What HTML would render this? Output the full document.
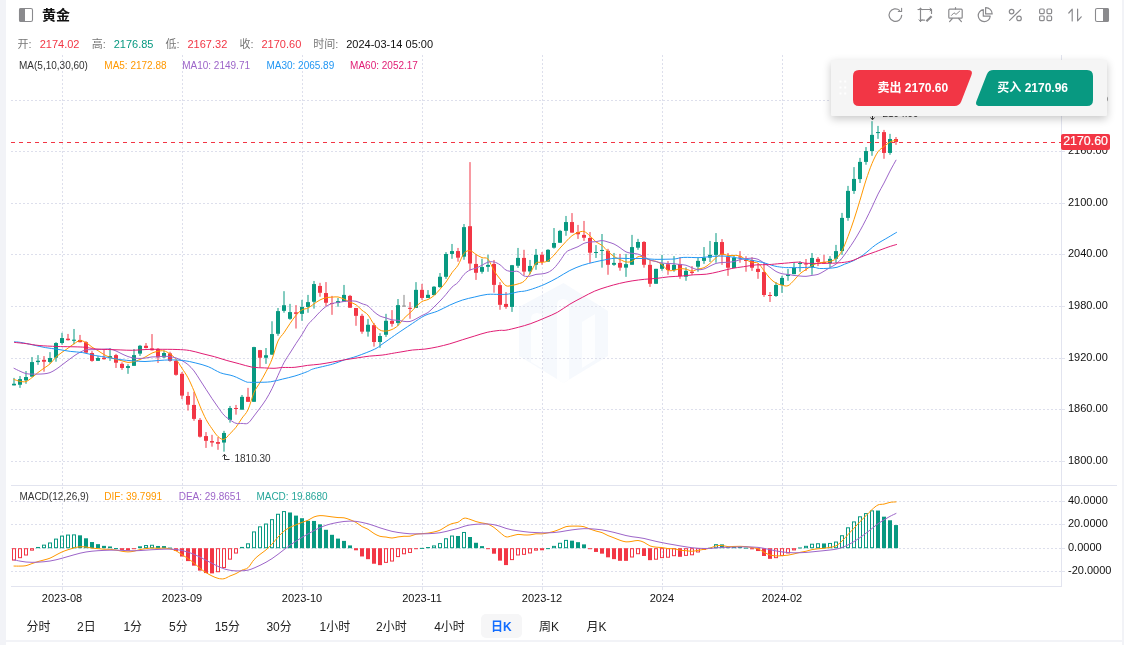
<!DOCTYPE html>
<html lang="zh-CN"><head><meta charset="utf-8"><title>黄金</title>
<style>
html,body{margin:0;padding:0}
body{width:1124px;height:645px;overflow:hidden;position:relative;background:#f2f3f7;font-family:"Liberation Sans","Noto Sans CJK SC",sans-serif;color:#222}
.panel{position:absolute;left:6px;top:0;width:1116px;height:640px;background:#fff}
.panel2{position:absolute;left:6px;top:642px;width:1116px;height:3px;background:#fff}
.chart{position:absolute;left:0;top:0}
.icons{position:absolute;left:0;top:0}
.title{position:absolute;left:42px;top:5px;font-size:14px;line-height:20px;font-weight:bold;color:#111}
.l2{position:absolute;left:0;top:36px;height:16px}
.l2 span{position:absolute;top:0;font-size:11px;line-height:16px;white-space:nowrap}
.l2 .lb{color:#777;font-size:11px}
.l2 .r{color:#f23645}.l2 .g{color:#089981}.l2 .k{color:#111}
.tabs{position:absolute;left:0;top:614px;height:24px}
.tabs span{position:absolute;top:1px;font-size:12px;line-height:24px;white-space:nowrap;color:#222}
.tabs .on{color:#126dff;font-weight:bold;margin-left:-0.6px}
.tabs .bg{top:0;left:481px;width:41px;height:23.6px;background:#f6f6f7;border-radius:5px}
.trade{position:absolute;left:831px;top:60px;width:276px;height:56px;background:#f5f5f5;box-shadow:0 3px 8px rgba(0,0,0,.22);border-radius:1px}
.trade .dots{position:absolute;left:839px;top:0}
.btn{position:absolute;top:10px;height:36px;color:#fff;font-size:12px;font-weight:bold;line-height:36px;white-space:nowrap}
.btn svg{position:absolute;left:0;top:0}
.btn span{position:absolute;top:-0.5px}
</style></head><body>
<div class="panel"></div><div class="panel2"></div>
<svg class="chart" width="1124" height="645" viewBox="0 0 1124 645" font-family="Liberation Sans, Arial, sans-serif"><g fill="#f6f9fd"><path d="M519,307 L563.5,283 L608,311 L608,356 L563.5,383 L519,356 Z"/></g><g fill="#ffffff" opacity="0.8"><path d="M531,319 Q531,313 537,313 Q543,313 543,319 V369 L531,362 Z M557,305 Q557,299 563,299 Q569,299 569,305 V379.5 L563.5,383 L557,379.5 Z M582,322 L595,314 V360 L582,368 Z"/></g>
<g stroke="#dddfec" stroke-width="1" stroke-dasharray="2 2" fill="none"><line x1="11" y1="100.5" x2="1061" y2="100.5"/><line x1="11" y1="151.5" x2="1061" y2="151.5"/><line x1="11" y1="203.5" x2="1061" y2="203.5"/><line x1="11" y1="254.5" x2="1061" y2="254.5"/><line x1="11" y1="306.5" x2="1061" y2="306.5"/><line x1="11" y1="358.5" x2="1061" y2="358.5"/><line x1="11" y1="409.5" x2="1061" y2="409.5"/><line x1="11" y1="461.5" x2="1061" y2="461.5"/><line x1="11" y1="501.5" x2="1061" y2="501.5"/><line x1="11" y1="524.5" x2="1061" y2="524.5"/><line x1="11" y1="548.5" x2="1061" y2="548.5"/><line x1="11" y1="571.5" x2="1061" y2="571.5"/><line x1="62.5" y1="55" x2="62.5" y2="485"/><line x1="62.5" y1="487" x2="62.5" y2="586"/><line x1="182.5" y1="55" x2="182.5" y2="485"/><line x1="182.5" y1="487" x2="182.5" y2="586"/><line x1="302.5" y1="55" x2="302.5" y2="485"/><line x1="302.5" y1="487" x2="302.5" y2="586"/><line x1="422.5" y1="55" x2="422.5" y2="485"/><line x1="422.5" y1="487" x2="422.5" y2="586"/><line x1="542.5" y1="55" x2="542.5" y2="485"/><line x1="542.5" y1="487" x2="542.5" y2="586"/><line x1="662.5" y1="55" x2="662.5" y2="485"/><line x1="662.5" y1="487" x2="662.5" y2="586"/><line x1="782.5" y1="55" x2="782.5" y2="485"/><line x1="782.5" y1="487" x2="782.5" y2="586"/></g>
<g><rect x="13" y="377.91" width="2" height="7.47" fill="#089981" opacity="0.5"/><rect x="12" y="383.76" width="4" height="1.62" fill="#089981"/><rect x="19" y="376.04" width="2" height="11.83" fill="#089981" opacity="0.5"/><rect x="18" y="379.15" width="4" height="5.6" fill="#089981"/><rect x="25" y="371.06" width="2" height="12.7" fill="#089981" opacity="0.5"/><rect x="24" y="377.04" width="4" height="3.36" fill="#089981"/><rect x="31" y="356.99" width="2" height="19.68" fill="#089981" opacity="0.5"/><rect x="30" y="362.09" width="4" height="14.57" fill="#089981"/><rect x="37" y="355.12" width="2" height="9.71" fill="#089981" opacity="0.5"/><rect x="36" y="360.72" width="4" height="1.37" fill="#089981"/><rect x="43" y="356.11" width="2" height="15.57" fill="#f23645" opacity="0.5"/><rect x="42" y="359.85" width="4" height="1.87" fill="#f23645"/><rect x="49" y="352.13" width="2" height="11.46" fill="#089981" opacity="0.5"/><rect x="48" y="357.98" width="4" height="3.99" fill="#089981"/><rect x="55" y="342.17" width="2" height="19.55" fill="#089981" opacity="0.5"/><rect x="54" y="343.04" width="4" height="14.69" fill="#089981"/><rect x="61" y="332.83" width="2" height="11.83" fill="#089981" opacity="0.5"/><rect x="60" y="338.06" width="4" height="4.98" fill="#089981"/><rect x="67" y="333.95" width="2" height="6.6" fill="#f23645" opacity="0.5"/><rect x="66" y="338.68" width="4" height="1.49" fill="#f23645"/><rect x="73" y="328.97" width="2" height="15.32" fill="#089981" opacity="0.5"/><rect x="72" y="339.68" width="4" height="1.12" fill="#089981"/><rect x="79" y="334.94" width="2" height="7.47" fill="#f23645" opacity="0.5"/><rect x="78" y="339.93" width="4" height="2.24" fill="#f23645"/><rect x="85" y="341.17" width="2" height="11.83" fill="#f23645" opacity="0.5"/><rect x="84" y="342.17" width="4" height="10.46" fill="#f23645"/><rect x="91" y="351.13" width="2" height="10.59" fill="#f23645" opacity="0.5"/><rect x="90" y="353" width="4" height="7.85" fill="#f23645"/><rect x="97" y="356.11" width="2" height="4.73" fill="#089981" opacity="0.5"/><rect x="96" y="357.98" width="4" height="2.86" fill="#089981"/><rect x="103" y="349.27" width="2" height="10.34" fill="#f23645" opacity="0.5"/><rect x="102" y="357.73" width="4" height="1.49" fill="#f23645"/><rect x="109" y="348.02" width="2" height="12.83" fill="#089981" opacity="0.5"/><rect x="108" y="356.11" width="4" height="1.87" fill="#089981"/><rect x="115" y="353.87" width="2" height="14.07" fill="#f23645" opacity="0.5"/><rect x="114" y="355.12" width="4" height="7.6" fill="#f23645"/><rect x="121" y="362.34" width="2" height="7.47" fill="#f23645" opacity="0.5"/><rect x="120" y="363.84" width="4" height="4.11" fill="#f23645"/><rect x="127" y="364.21" width="2" height="9.59" fill="#089981" opacity="0.5"/><rect x="126" y="366.08" width="4" height="1.87" fill="#089981"/><rect x="133" y="349.02" width="2" height="16.81" fill="#089981" opacity="0.5"/><rect x="132" y="355.12" width="4" height="10.71" fill="#089981"/><rect x="139" y="344.91" width="2" height="10.96" fill="#089981" opacity="0.5"/><rect x="138" y="345.78" width="4" height="7.85" fill="#089981"/><rect x="145" y="343.04" width="2" height="5.35" fill="#f23645" opacity="0.5"/><rect x="144" y="345.78" width="4" height="2.24" fill="#f23645"/><rect x="151" y="334.07" width="2" height="16.44" fill="#f23645" opacity="0.5"/><rect x="150" y="348.39" width="4" height="1.87" fill="#f23645"/><rect x="157" y="348.02" width="2" height="14.94" fill="#f23645" opacity="0.5"/><rect x="156" y="348.89" width="4" height="8.47" fill="#f23645"/><rect x="163" y="350.51" width="2" height="7.47" fill="#089981" opacity="0.5"/><rect x="162" y="353" width="4" height="4.36" fill="#089981"/><rect x="169" y="351.76" width="2" height="9.96" fill="#f23645" opacity="0.5"/><rect x="168" y="353.37" width="4" height="7.47" fill="#f23645"/><rect x="175" y="360.1" width="2" height="15.57" fill="#f23645" opacity="0.5"/><rect x="174" y="360.85" width="4" height="13.95" fill="#f23645"/><rect x="181" y="372.05" width="2" height="27.02" fill="#f23645" opacity="0.5"/><rect x="180" y="373.8" width="4" height="21.79" fill="#f23645"/><rect x="187" y="391.87" width="2" height="18.68" fill="#f23645" opacity="0.5"/><rect x="186" y="395.98" width="4" height="8.72" fill="#f23645"/><rect x="193" y="391.87" width="2" height="28.89" fill="#f23645" opacity="0.5"/><rect x="192" y="404.94" width="4" height="13.95" fill="#f23645"/><rect x="199" y="418.02" width="2" height="19.55" fill="#f23645" opacity="0.5"/><rect x="198" y="419.89" width="4" height="16.81" fill="#f23645"/><rect x="205" y="432.09" width="2" height="15.82" fill="#f23645" opacity="0.5"/><rect x="204" y="436.08" width="4" height="4.73" fill="#f23645"/><rect x="211" y="434.83" width="2" height="11.83" fill="#f23645" opacity="0.5"/><rect x="210" y="441.06" width="4" height="1.49" fill="#f23645"/><rect x="217" y="437.07" width="2" height="12.7" fill="#f23645" opacity="0.5"/><rect x="216" y="442.05" width="4" height="1.74" fill="#f23645"/><rect x="223" y="430.85" width="2" height="20.8" fill="#089981" opacity="0.5"/><rect x="222" y="432.96" width="4" height="9.59" fill="#089981"/><rect x="229" y="405.94" width="2" height="16.69" fill="#089981" opacity="0.5"/><rect x="228" y="408.06" width="4" height="11.83" fill="#089981"/><rect x="235" y="404.94" width="2" height="9.71" fill="#f23645" opacity="0.5"/><rect x="234" y="407.99" width="4" height="1" fill="#f23645"/><rect x="241" y="394.98" width="2" height="14.69" fill="#089981" opacity="0.5"/><rect x="240" y="396.85" width="4" height="12.83" fill="#089981"/><rect x="247" y="387.88" width="2" height="13.95" fill="#f23645" opacity="0.5"/><rect x="246" y="396.85" width="4" height="4.98" fill="#f23645"/><rect x="253" y="346.8" width="2" height="55" fill="#089981" opacity="0.5"/><rect x="252" y="347.1" width="4" height="54.7" fill="#089981"/><rect x="259" y="349.89" width="2" height="17.19" fill="#f23645" opacity="0.5"/><rect x="258" y="350.14" width="4" height="7.6" fill="#f23645"/><rect x="265" y="348.02" width="2" height="15.82" fill="#089981" opacity="0.5"/><rect x="264" y="355.24" width="4" height="2.49" fill="#089981"/><rect x="271" y="321.25" width="2" height="33.62" fill="#089981" opacity="0.5"/><rect x="270" y="334.07" width="4" height="20.55" fill="#089981"/><rect x="277" y="307.98" width="2" height="27.77" fill="#089981" opacity="0.5"/><rect x="276" y="311.1" width="4" height="22.67" fill="#089981"/><rect x="283" y="291.17" width="2" height="21.54" fill="#089981" opacity="0.5"/><rect x="282" y="305.24" width="4" height="5.6" fill="#089981"/><rect x="289" y="303.87" width="2" height="15.94" fill="#089981" opacity="0.5"/><rect x="288" y="312.09" width="4" height="6.72" fill="#089981"/><rect x="295" y="305.12" width="2" height="23.41" fill="#f23645" opacity="0.5"/><rect x="294" y="312.34" width="4" height="1.49" fill="#f23645"/><rect x="301" y="299.89" width="2" height="20.92" fill="#089981" opacity="0.5"/><rect x="300" y="306.99" width="4" height="6.85" fill="#089981"/><rect x="307" y="294.91" width="2" height="17.81" fill="#089981" opacity="0.5"/><rect x="306" y="302.13" width="4" height="4.86" fill="#089981"/><rect x="313" y="280.96" width="2" height="27.65" fill="#089981" opacity="0.5"/><rect x="312" y="284.07" width="4" height="17.68" fill="#089981"/><rect x="319" y="282.83" width="2" height="13.95" fill="#f23645" opacity="0.5"/><rect x="318" y="285.94" width="4" height="6.85" fill="#f23645"/><rect x="325" y="282.08" width="2" height="24.03" fill="#f23645" opacity="0.5"/><rect x="324" y="293.04" width="4" height="9.71" fill="#f23645"/><rect x="331" y="295.9" width="2" height="18.93" fill="#f23645" opacity="0.5"/><rect x="330" y="303" width="4" height="1" fill="#f23645"/><rect x="337" y="298.02" width="2" height="8.72" fill="#089981" opacity="0.5"/><rect x="336" y="301.13" width="4" height="1.87" fill="#089981"/><rect x="343" y="284.94" width="2" height="16.81" fill="#089981" opacity="0.5"/><rect x="342" y="294.91" width="4" height="6.85" fill="#089981"/><rect x="349" y="294.91" width="2" height="12.83" fill="#f23645" opacity="0.5"/><rect x="348" y="295.9" width="4" height="11.83" fill="#f23645"/><rect x="355" y="307.98" width="2" height="17.81" fill="#f23645" opacity="0.5"/><rect x="354" y="307.98" width="4" height="7.85" fill="#f23645"/><rect x="361" y="313.84" width="2" height="19.93" fill="#f23645" opacity="0.5"/><rect x="360" y="315.83" width="4" height="15.82" fill="#f23645"/><rect x="367" y="318.94" width="2" height="17.68" fill="#089981" opacity="0.5"/><rect x="366" y="324.79" width="4" height="6.85" fill="#089981"/><rect x="373" y="322.93" width="2" height="23.66" fill="#f23645" opacity="0.5"/><rect x="372" y="325.17" width="4" height="16.81" fill="#f23645"/><rect x="379" y="333.14" width="2" height="14.69" fill="#089981" opacity="0.5"/><rect x="378" y="336" width="4" height="5.98" fill="#089981"/><rect x="385" y="313.84" width="2" height="23.04" fill="#089981" opacity="0.5"/><rect x="384" y="320.81" width="4" height="13.95" fill="#089981"/><rect x="391" y="310.1" width="2" height="16.56" fill="#f23645" opacity="0.5"/><rect x="390" y="320.81" width="4" height="2.99" fill="#f23645"/><rect x="397" y="299.02" width="2" height="26.77" fill="#089981" opacity="0.5"/><rect x="396" y="305.12" width="4" height="17.81" fill="#089981"/><rect x="403" y="294.91" width="2" height="11.33" fill="#888888" opacity="0.5"/><rect x="402" y="305.61" width="4" height="1" fill="#888888"/><rect x="409" y="302.05" width="2" height="16.69" fill="#f23645" opacity="0.5"/><rect x="408" y="307.84" width="4" height="1" fill="#f23645"/><rect x="415" y="282.13" width="2" height="25.78" fill="#089981" opacity="0.5"/><rect x="414" y="289.85" width="4" height="18.06" fill="#089981"/><rect x="421" y="283.87" width="2" height="15.94" fill="#f23645" opacity="0.5"/><rect x="420" y="289.85" width="4" height="8.09" fill="#f23645"/><rect x="427" y="290.1" width="2" height="7.85" fill="#089981" opacity="0.5"/><rect x="426" y="294.83" width="4" height="3.11" fill="#089981"/><rect x="433" y="286.11" width="2" height="8.97" fill="#089981" opacity="0.5"/><rect x="432" y="286.74" width="4" height="8.34" fill="#089981"/><rect x="439" y="273.04" width="2" height="14.69" fill="#089981" opacity="0.5"/><rect x="438" y="276.77" width="4" height="10.34" fill="#089981"/><rect x="445" y="252.12" width="2" height="26.77" fill="#089981" opacity="0.5"/><rect x="444" y="253.99" width="4" height="22.79" fill="#089981"/><rect x="451" y="243.96" width="2" height="14.82" fill="#089981" opacity="0.5"/><rect x="450" y="251.06" width="4" height="2.86" fill="#089981"/><rect x="457" y="247.95" width="2" height="13.7" fill="#f23645" opacity="0.5"/><rect x="456" y="251.06" width="4" height="6.6" fill="#f23645"/><rect x="463" y="224.03" width="2" height="35.74" fill="#089981" opacity="0.5"/><rect x="462" y="227.15" width="4" height="29.51" fill="#089981"/><rect x="469" y="162.1" width="2" height="108.3" fill="#f23645" opacity="0.5"/><rect x="468" y="226.2" width="4" height="37.3" fill="#f23645"/><rect x="475" y="254.36" width="2" height="25.53" fill="#f23645" opacity="0.5"/><rect x="474" y="263.95" width="4" height="8.84" fill="#f23645"/><rect x="481" y="258.72" width="2" height="14.94" fill="#089981" opacity="0.5"/><rect x="480" y="267.06" width="4" height="4.73" fill="#089981"/><rect x="487" y="254.73" width="2" height="17.06" fill="#089981" opacity="0.5"/><rect x="486" y="264.94" width="4" height="1.87" fill="#089981"/><rect x="493" y="259.96" width="2" height="32.75" fill="#f23645" opacity="0.5"/><rect x="492" y="263.95" width="4" height="20.92" fill="#f23645"/><rect x="499" y="282.13" width="2" height="27.65" fill="#f23645" opacity="0.5"/><rect x="498" y="285.12" width="4" height="19.68" fill="#f23645"/><rect x="505" y="292.09" width="2" height="16.69" fill="#f23645" opacity="0.5"/><rect x="504" y="303.92" width="4" height="2.99" fill="#f23645"/><rect x="511" y="264.94" width="2" height="46.95" fill="#089981" opacity="0.5"/><rect x="510" y="265.19" width="4" height="41.72" fill="#089981"/><rect x="517" y="247.95" width="2" height="19.93" fill="#089981" opacity="0.5"/><rect x="516" y="257.91" width="4" height="7.85" fill="#089981"/><rect x="523" y="249.81" width="2" height="25.53" fill="#f23645" opacity="0.5"/><rect x="522" y="257.91" width="4" height="13.7" fill="#f23645"/><rect x="529" y="259.96" width="2" height="14.32" fill="#089981" opacity="0.5"/><rect x="528" y="265.94" width="4" height="5.48" fill="#089981"/><rect x="535" y="248.96" width="2" height="20.8" fill="#089981" opacity="0.5"/><rect x="534" y="254.81" width="4" height="9.96" fill="#089981"/><rect x="541" y="252.07" width="2" height="12.7" fill="#f23645" opacity="0.5"/><rect x="540" y="254.81" width="4" height="7.1" fill="#f23645"/><rect x="547" y="249.21" width="2" height="12.45" fill="#089981" opacity="0.5"/><rect x="546" y="249.83" width="4" height="11.83" fill="#089981"/><rect x="553" y="228.04" width="2" height="20.55" fill="#089981" opacity="0.5"/><rect x="552" y="242.98" width="4" height="4.73" fill="#089981"/><rect x="559" y="229.91" width="2" height="13.08" fill="#089981" opacity="0.5"/><rect x="558" y="230.9" width="4" height="11.83" fill="#089981"/><rect x="565" y="215.96" width="2" height="19.8" fill="#089981" opacity="0.5"/><rect x="564" y="222.06" width="4" height="8.72" fill="#089981"/><rect x="571" y="213.09" width="2" height="19.55" fill="#f23645" opacity="0.5"/><rect x="570" y="222.06" width="4" height="10.59" fill="#f23645"/><rect x="577" y="224.93" width="2" height="13.95" fill="#f23645" opacity="0.5"/><rect x="576" y="232.02" width="4" height="2.24" fill="#f23645"/><rect x="583" y="220.94" width="2" height="19.93" fill="#f23645" opacity="0.5"/><rect x="582" y="234.89" width="4" height="2.86" fill="#f23645"/><rect x="589" y="232.02" width="2" height="30.88" fill="#f23645" opacity="0.5"/><rect x="588" y="238" width="4" height="14.69" fill="#f23645"/><rect x="595" y="245.1" width="2" height="12.83" fill="#089981" opacity="0.5"/><rect x="594" y="252.01" width="4" height="1" fill="#089981"/><rect x="601" y="234.02" width="2" height="33.62" fill="#089981" opacity="0.5"/><rect x="600" y="249.95" width="4" height="1" fill="#089981"/><rect x="607" y="248.84" width="2" height="25.9" fill="#f23645" opacity="0.5"/><rect x="606" y="250.83" width="4" height="13.95" fill="#f23645"/><rect x="613" y="252.95" width="2" height="12.83" fill="#089981" opacity="0.5"/><rect x="612" y="262.91" width="4" height="1.87" fill="#089981"/><rect x="619" y="253.94" width="2" height="16.81" fill="#f23645" opacity="0.5"/><rect x="618" y="262.91" width="4" height="4.73" fill="#f23645"/><rect x="625" y="253.94" width="2" height="22.91" fill="#089981" opacity="0.5"/><rect x="624" y="264.15" width="4" height="3.49" fill="#089981"/><rect x="631" y="234.89" width="2" height="29.89" fill="#089981" opacity="0.5"/><rect x="630" y="247.09" width="4" height="17.68" fill="#089981"/><rect x="637" y="238.87" width="2" height="10.96" fill="#089981" opacity="0.5"/><rect x="636" y="241.99" width="4" height="5.73" fill="#089981"/><rect x="643" y="241.11" width="2" height="26.53" fill="#f23645" opacity="0.5"/><rect x="642" y="241.99" width="4" height="22.79" fill="#f23645"/><rect x="649" y="260.49" width="2" height="26.4" fill="#f23645" opacity="0.5"/><rect x="648" y="264.85" width="4" height="18.93" fill="#f23645"/><rect x="655" y="268.84" width="2" height="14.94" fill="#089981" opacity="0.5"/><rect x="654" y="268.84" width="4" height="14.94" fill="#089981"/><rect x="661" y="254.89" width="2" height="15.94" fill="#089981" opacity="0.5"/><rect x="660" y="263.85" width="4" height="4.98" fill="#089981"/><rect x="667" y="261.11" width="2" height="13.7" fill="#f23645" opacity="0.5"/><rect x="666" y="264.23" width="4" height="5.85" fill="#f23645"/><rect x="673" y="256.13" width="2" height="15.57" fill="#089981" opacity="0.5"/><rect x="672" y="264.85" width="4" height="5.23" fill="#089981"/><rect x="679" y="257.13" width="2" height="21.67" fill="#f23645" opacity="0.5"/><rect x="678" y="263.98" width="4" height="12.08" fill="#f23645"/><rect x="685" y="267.34" width="2" height="13.45" fill="#089981" opacity="0.5"/><rect x="684" y="270.83" width="4" height="5.85" fill="#089981"/><rect x="691" y="266.1" width="2" height="8.72" fill="#f23645" opacity="0.5"/><rect x="690" y="271.7" width="4" height="1.25" fill="#f23645"/><rect x="697" y="258" width="2" height="13.7" fill="#089981" opacity="0.5"/><rect x="696" y="260.87" width="4" height="5.85" fill="#089981"/><rect x="703" y="247.04" width="2" height="16.81" fill="#089981" opacity="0.5"/><rect x="702" y="257.63" width="4" height="3.24" fill="#089981"/><rect x="709" y="240.94" width="2" height="21.05" fill="#089981" opacity="0.5"/><rect x="708" y="254.89" width="4" height="2.74" fill="#089981"/><rect x="715" y="233.09" width="2" height="29.64" fill="#089981" opacity="0.5"/><rect x="714" y="242.06" width="4" height="12.83" fill="#089981"/><rect x="721" y="239.07" width="2" height="25.78" fill="#f23645" opacity="0.5"/><rect x="720" y="242.06" width="4" height="12.83" fill="#f23645"/><rect x="727" y="253.02" width="2" height="22.79" fill="#f23645" opacity="0.5"/><rect x="726" y="256.76" width="4" height="10.96" fill="#f23645"/><rect x="733" y="254.89" width="2" height="13.08" fill="#089981" opacity="0.5"/><rect x="732" y="257.63" width="4" height="10.34" fill="#089981"/><rect x="739" y="251.1" width="2" height="11.6" fill="#f23645" opacity="0.5"/><rect x="738" y="256.5" width="4" height="1" fill="#f23645"/><rect x="745" y="256.2" width="2" height="15.5" fill="#f23645" opacity="0.5"/><rect x="744" y="260" width="4" height="1" fill="#f23645"/><rect x="751" y="257.13" width="2" height="13.7" fill="#f23645" opacity="0.5"/><rect x="750" y="260.24" width="4" height="7.47" fill="#f23645"/><rect x="757" y="263.61" width="2" height="15.19" fill="#f23645" opacity="0.5"/><rect x="756" y="268.84" width="4" height="3.11" fill="#f23645"/><rect x="763" y="262.36" width="2" height="34.5" fill="#f23645" opacity="0.5"/><rect x="762" y="272.07" width="4" height="22.91" fill="#f23645"/><rect x="769" y="292" width="2" height="9.96" fill="#f23645" opacity="0.5"/><rect x="768" y="294.99" width="4" height="1" fill="#f23645"/><rect x="775" y="282.04" width="2" height="14.82" fill="#089981" opacity="0.5"/><rect x="774" y="285.02" width="4" height="10.96" fill="#089981"/><rect x="781" y="275.81" width="2" height="17.06" fill="#089981" opacity="0.5"/><rect x="780" y="277.93" width="4" height="7.1" fill="#089981"/><rect x="787" y="268.92" width="2" height="11.83" fill="#089981" opacity="0.5"/><rect x="786" y="274.53" width="4" height="1.49" fill="#089981"/><rect x="793" y="262.07" width="2" height="12.08" fill="#089981" opacity="0.5"/><rect x="792" y="267.93" width="4" height="6.23" fill="#089981"/><rect x="799" y="261.2" width="2" height="10.6" fill="#089981" opacity="0.5"/><rect x="798" y="263" width="4" height="1" fill="#089981"/><rect x="805" y="259" width="2" height="11.9" fill="#f23645" opacity="0.5"/><rect x="804" y="263.5" width="4" height="1" fill="#f23645"/><rect x="811" y="252.98" width="2" height="21.79" fill="#089981" opacity="0.5"/><rect x="810" y="257.96" width="4" height="9.34" fill="#089981"/><rect x="817" y="257.09" width="2" height="8.97" fill="#f23645" opacity="0.5"/><rect x="816" y="258.84" width="4" height="3.11" fill="#f23645"/><rect x="823" y="254.85" width="2" height="8.97" fill="#f23645" opacity="0.5"/><rect x="822" y="262.07" width="4" height="1.49" fill="#f23645"/><rect x="829" y="256.1" width="2" height="10.96" fill="#089981" opacity="0.5"/><rect x="828" y="258.84" width="4" height="4.11" fill="#089981"/><rect x="835" y="244.89" width="2" height="18.06" fill="#089981" opacity="0.5"/><rect x="834" y="251.11" width="4" height="7.72" fill="#089981"/><rect x="841" y="212.9" width="2" height="42" fill="#089981" opacity="0.5"/><rect x="840" y="217.9" width="4" height="33.2" fill="#089981"/><rect x="847" y="185.9" width="2" height="34.87" fill="#089981" opacity="0.5"/><rect x="846" y="190.88" width="4" height="27.02" fill="#089981"/><rect x="853" y="167.1" width="2" height="26.77" fill="#089981" opacity="0.5"/><rect x="852" y="178.93" width="4" height="11.96" fill="#089981"/><rect x="859" y="157.9" width="2" height="25.1" fill="#089981" opacity="0.5"/><rect x="858" y="161.9" width="4" height="17.2" fill="#089981"/><rect x="865" y="147.07" width="2" height="17.68" fill="#089981" opacity="0.5"/><rect x="864" y="151.06" width="4" height="10.83" fill="#089981"/><rect x="871" y="121.17" width="2" height="34.62" fill="#089981" opacity="0.5"/><rect x="870" y="134.87" width="4" height="16.19" fill="#089981"/><rect x="877" y="125.9" width="2" height="12.95" fill="#089981" opacity="0.5"/><rect x="876" y="132.07" width="4" height="1" fill="#089981"/><rect x="883" y="129.89" width="2" height="28.89" fill="#f23645" opacity="0.5"/><rect x="882" y="132.13" width="4" height="20.8" fill="#f23645"/><rect x="889" y="133.87" width="2" height="20.92" fill="#089981" opacity="0.5"/><rect x="888" y="138.98" width="4" height="13.95" fill="#089981"/><rect x="895" y="137" width="2" height="7.8" fill="#f23645" opacity="0.5"/><rect x="894" y="139" width="4" height="2.9" fill="#f23645"/></g>
<path d="M14,379.49 C15,379.8 18,380.98 20,381.32 C22,381.66 24,382.16 26,381.53 C28,380.9 30,379.04 32,377.55 C34,376.05 36,374.12 38,372.55 C40,370.99 42,369.58 44,368.14 C46,366.7 48,365.75 50,363.91 C52,362.07 54,359.05 56,357.11 C58,355.18 60,353.79 62,352.3 C64,350.82 66,349.61 68,348.19 C70,346.77 72,345.05 74,343.79 C76,342.52 78,340.83 80,340.62 C82,340.42 84,341.46 86,342.54 C88,343.62 90,345.75 92,347.1 C94,348.45 96,349.41 98,350.66 C100,351.91 102,353.45 104,354.57 C106,355.69 108,356.56 110,357.36 C112,358.16 114,358.8 116,359.38 C118,359.95 120,360.29 122,360.8 C124,361.3 126,362.28 128,362.42 C130,362.55 132,362.08 134,361.59 C136,361.11 138,360.36 140,359.53 C142,358.69 144,357.67 146,356.59 C148,355.51 150,353.93 152,353.05 C154,352.17 156,351.67 158,351.31 C160,350.95 162,350.45 164,350.88 C166,351.32 168,352.5 170,353.9 C172,355.29 174,356.85 176,359.25 C178,361.66 180,365.23 182,368.32 C184,371.41 186,374.01 188,377.79 C190,381.56 192,386.24 194,390.96 C196,395.69 198,401.41 200,406.13 C202,410.86 204,415.57 206,419.34 C208,423.1 210,425.86 212,428.73 C214,431.6 216,434.78 218,436.55 C220,438.32 222,439.85 224,439.36 C226,438.88 228,435.65 230,433.64 C232,431.62 234,429.85 236,427.26 C238,424.67 240,421.04 242,418.12 C244,415.2 246,413.99 248,409.73 C250,405.46 252,397.09 254,392.55 C256,388.01 258,385.96 260,382.49 C262,379.02 264,375.63 266,371.75 C268,367.87 270,364.31 272,359.2 C274,354.08 276,345.47 278,341.05 C280,336.63 282,335.59 284,332.68 C286,329.76 288,326.45 290,323.55 C292,320.65 294,317.55 296,315.27 C298,312.98 300,311.05 302,309.85 C304,308.65 306,309.06 308,308.06 C310,307.05 312,305.17 314,303.82 C316,302.47 318,300.98 320,299.96 C322,298.95 324,298.22 326,297.75 C328,297.28 330,297.28 332,297.15 C334,297.02 336,296.62 338,296.95 C340,297.28 342,298.26 344,299.12 C346,299.98 348,301.17 350,302.1 C352,303.04 354,303.36 356,304.72 C358,306.08 360,308.54 362,310.25 C364,311.96 366,312.62 368,314.98 C370,317.34 372,321.88 374,324.4 C376,326.91 378,328.94 380,330.05 C382,331.16 384,331.14 386,331.05 C388,330.95 390,330.39 392,329.48 C394,328.56 396,327.4 398,325.54 C400,323.69 402,320.45 404,318.34 C406,316.24 408,314.84 410,312.9 C412,310.96 414,308.6 416,306.71 C418,304.81 420,302.74 422,301.54 C424,300.33 426,300.46 428,299.48 C430,298.49 432,297.34 434,295.63 C436,293.92 438,291.49 440,289.23 C442,286.97 444,284.81 446,282.05 C448,279.3 450,275.48 452,272.68 C454,269.88 456,268.47 458,265.24 C460,262.02 462,255.75 464,253.33 C466,250.9 468,250.49 470,250.67 C472,250.85 474,253.27 476,254.43 C478,255.59 480,256.86 482,257.63 C484,258.41 486,256.92 488,259.09 C490,261.26 492,267.33 494,270.63 C496,273.93 498,276.38 500,278.89 C502,281.41 504,284.64 506,285.72 C508,286.79 510,285.64 512,285.34 C514,285.05 516,284.61 518,283.94 C520,283.26 522,283.02 524,281.28 C526,279.55 528,276.54 530,273.51 C532,270.48 534,264.94 536,263.09 C538,261.25 540,262.81 542,262.44 C544,262.06 546,262.04 548,260.82 C550,259.6 552,257.22 554,255.1 C556,252.97 558,250.35 560,248.09 C562,245.83 564,243.61 566,241.54 C568,239.47 570,237.18 572,235.68 C574,234.19 576,233.26 578,232.57 C580,231.88 582,230.97 584,231.53 C586,232.08 588,234.16 590,235.88 C592,237.61 594,240.31 596,241.89 C598,243.47 600,243.78 602,245.37 C604,246.97 606,249.62 608,251.48 C610,253.33 612,255.17 614,256.51 C616,257.84 618,258.59 620,259.5 C622,260.4 624,261.61 626,261.91 C628,262.21 630,262.17 632,261.31 C634,260.45 636,257.45 638,256.76 C640,256.06 642,256.53 644,257.13 C646,257.73 648,259.66 650,260.36 C652,261.05 654,260.58 656,261.29 C658,262.01 660,263.15 662,264.65 C664,266.14 666,269.33 668,270.27 C670,271.2 672,270.54 674,270.28 C676,270.03 678,268.93 680,268.74 C682,268.55 684,268.77 686,269.13 C688,269.5 690,270.96 692,270.95 C694,270.95 696,269.66 698,269.11 C700,268.56 702,268.61 704,267.67 C706,266.72 708,265.1 710,263.43 C712,261.77 714,259.24 716,257.68 C718,256.12 720,254.44 722,254.07 C724,253.69 726,255.21 728,255.44 C730,255.66 732,255.35 734,255.44 C736,255.52 738,255.24 740,255.96 C742,256.68 744,258.69 746,259.75 C748,260.8 750,261.74 752,262.31 C754,262.88 756,261.77 758,263.16 C760,264.54 762,268.1 764,270.63 C766,273.16 768,276.24 770,278.33 C772,280.41 774,281.99 776,283.13 C778,284.27 780,284.75 782,285.17 C784,285.6 786,286.51 788,285.69 C790,284.87 792,282.28 794,280.28 C796,278.28 798,275.46 800,273.68 C802,271.9 804,270.93 806,269.58 C808,268.23 810,266.67 812,265.58 C814,264.5 816,263.63 818,263.07 C820,262.5 822,262.48 824,262.2 C826,261.91 828,261.95 830,261.36 C832,260.78 834,260.47 836,258.69 C838,256.9 840,254.38 842,250.67 C844,246.97 846,241.65 848,236.46 C850,231.27 852,225.59 854,219.53 C856,213.48 858,206.71 860,200.15 C862,193.58 864,186.24 866,180.13 C868,174.03 870,168.25 872,163.53 C874,158.8 876,154.6 878,151.78 C880,148.95 882,148.21 884,146.58 C886,144.95 888,143.06 890,141.99 C892,140.92 895,140.47 896,140.16" fill="none" stroke="#ff9800" stroke-width="1" stroke-linejoin="round" stroke-linecap="round"/>
<path d="M14,368.3 C15,368.78 18,370.32 20,371.21 C22,372.1 24,373.13 26,373.62 C28,374.1 30,374.04 32,374.12 C34,374.2 36,374.15 38,374.1 C40,374.05 42,374.06 44,373.82 C46,373.57 48,373.37 50,372.62 C52,371.87 54,370.6 56,369.32 C58,368.04 60,366.42 62,364.93 C64,363.44 66,361.87 68,360.37 C70,358.88 72,357.32 74,355.97 C76,354.61 78,353.29 80,352.27 C82,351.24 84,350.25 86,349.83 C88,349.4 90,349.77 92,349.7 C94,349.63 96,349.51 98,349.43 C100,349.34 102,349.25 104,349.18 C106,349.11 108,348.69 110,348.99 C112,349.29 114,350.13 116,350.96 C118,351.78 120,353.02 122,353.95 C124,354.88 126,355.85 128,356.54 C130,357.23 132,357.76 134,358.08 C136,358.4 138,358.46 140,358.44 C142,358.43 144,358.24 146,357.98 C148,357.73 150,357.11 152,356.92 C154,356.74 156,356.98 158,356.86 C160,356.75 162,356.26 164,356.24 C166,356.21 168,356.43 170,356.71 C172,356.99 174,357.26 176,357.92 C178,358.58 180,359.58 182,360.68 C184,361.79 186,362.84 188,364.55 C190,366.25 192,368.35 194,370.92 C196,373.5 198,376.95 200,380.02 C202,383.08 204,386.21 206,389.3 C208,392.38 210,395.55 212,398.52 C214,401.5 216,404.39 218,407.17 C220,409.94 222,413.04 224,415.16 C226,417.28 228,418.53 230,419.89 C232,421.24 234,422.71 236,423.3 C238,423.89 240,423.45 242,423.42 C244,423.4 246,424.38 248,423.14 C250,421.89 252,418.47 254,415.96 C256,413.45 258,410.8 260,408.06 C262,405.32 264,402.74 266,399.51 C268,396.27 270,392.68 272,388.66 C274,384.64 276,379.73 278,375.39 C280,371.05 282,366.34 284,362.62 C286,358.89 288,356.2 290,353.02 C292,349.83 294,346.59 296,343.51 C298,340.43 300,337.68 302,334.52 C304,331.36 306,327.27 308,324.55 C310,321.84 312,320.38 314,318.25 C316,316.12 318,313.71 320,311.76 C322,309.8 324,307.88 326,306.51 C328,305.13 330,304.17 332,303.5 C334,302.83 336,302.84 338,302.5 C340,302.16 342,301.71 344,301.47 C346,301.22 348,301.07 350,301.03 C352,300.99 354,300.79 356,301.23 C358,301.68 360,302.91 362,303.7 C364,304.49 366,304.62 368,305.97 C370,307.31 372,310.07 374,311.76 C376,313.44 378,315.06 380,316.08 C382,317.1 384,317.25 386,317.88 C388,318.51 390,319.47 392,319.86 C394,320.26 396,320.01 398,320.26 C400,320.51 402,321.17 404,321.37 C406,321.57 408,321.89 410,321.47 C412,321.06 414,319.87 416,318.88 C418,317.88 420,316.57 422,315.51 C424,314.45 426,313.93 428,312.51 C430,311.09 432,308.89 434,306.99 C436,305.08 438,303.16 440,301.06 C442,298.96 444,296.71 446,294.38 C448,292.06 450,289.11 452,287.11 C454,285.1 456,284.47 458,282.36 C460,280.26 462,276.55 464,274.48 C466,272.41 468,270.99 470,269.95 C472,268.91 474,269.04 476,268.24 C478,267.44 480,266.17 482,265.15 C484,264.14 486,262.69 488,262.17 C490,261.64 492,261.54 494,261.98 C496,262.41 498,263.43 500,264.78 C502,266.13 504,268.96 506,270.07 C508,271.19 510,271.25 512,271.49 C514,271.73 516,270.77 518,271.51 C520,272.26 522,275.18 524,275.96 C526,276.74 528,276.46 530,276.2 C532,275.94 534,274.79 536,274.4 C538,274.02 540,274.23 542,273.89 C544,273.55 546,273.33 548,272.38 C550,271.43 552,270.12 554,268.19 C556,266.26 558,263.45 560,260.8 C562,258.15 564,254.27 566,252.32 C568,250.36 570,250 572,249.06 C574,248.12 576,247.65 578,246.7 C580,245.74 582,244.1 584,243.31 C586,242.53 588,242.25 590,241.99 C592,241.72 594,241.96 596,241.71 C598,241.47 600,240.48 602,240.53 C604,240.58 606,241.44 608,242.02 C610,242.6 612,243.07 614,244.02 C616,244.96 618,246.38 620,247.69 C622,249 624,250.96 626,251.9 C628,252.84 630,252.97 632,253.34 C634,253.71 636,253.54 638,254.12 C640,254.69 642,255.85 644,256.82 C646,257.79 648,259.13 650,259.93 C652,260.72 654,261.09 656,261.6 C658,262.11 660,262.66 662,262.98 C664,263.3 666,263.39 668,263.51 C670,263.63 672,263.53 674,263.7 C676,263.88 678,264.3 680,264.55 C682,264.8 684,264.67 686,265.21 C688,265.76 690,267.05 692,267.8 C694,268.55 696,269.49 698,269.69 C700,269.88 702,269.57 704,268.97 C706,268.37 708,267.01 710,266.08 C712,265.16 714,264 716,263.41 C718,262.81 720,262.7 722,262.51 C724,262.32 726,262.43 728,262.27 C730,262.11 732,261.98 734,261.55 C736,261.12 738,260.17 740,259.69 C742,259.22 744,258.96 746,258.71 C748,258.46 750,258.09 752,258.19 C754,258.29 756,258.49 758,259.3 C760,260.1 762,261.73 764,263.03 C766,264.34 768,265.74 770,267.14 C772,268.54 774,270.34 776,271.44 C778,272.54 780,273.25 782,273.74 C784,274.24 786,274.14 788,274.42 C790,274.71 792,275.19 794,275.45 C796,275.72 798,275.85 800,276 C802,276.15 804,276.46 806,276.35 C808,276.25 810,275.71 812,275.38 C814,275.05 816,275.07 818,274.38 C820,273.69 822,272.38 824,271.24 C826,270.09 828,268.71 830,267.52 C832,266.34 834,265.7 836,264.13 C838,262.57 840,260.52 842,258.13 C844,255.73 846,252.64 848,249.76 C850,246.89 852,244.03 854,240.86 C856,237.7 858,234.33 860,230.75 C862,227.18 864,223.35 866,219.41 C868,215.47 870,211.32 872,207.1 C874,202.89 876,198.13 878,194.12 C880,190.11 882,186.9 884,183.05 C886,179.21 888,174.89 890,171.07 C892,167.25 895,161.97 896,160.15" fill="none" stroke="#9d65c9" stroke-width="1" stroke-linejoin="round" stroke-linecap="round"/>
<path d="M14.5,341.8 C15.5,341.9 17.43,341.88 20.5,342.4 C23.57,342.92 28.75,344.03 32.9,344.9 C37.05,345.77 41.25,346.87 45.4,347.6 C49.55,348.33 53.65,348.67 57.8,349.3 C61.95,349.93 66.15,350.85 70.3,351.4 C74.45,351.95 78.55,351.92 82.7,352.6 C86.85,353.28 91.05,354.7 95.2,355.5 C99.35,356.3 103.45,356.72 107.6,357.4 C111.75,358.08 115.95,359.03 120.1,359.6 C124.25,360.17 128.35,360.48 132.5,360.8 C136.65,361.12 140.67,361.55 145,361.5 C149.33,361.45 154.18,360.77 158.5,360.5 C162.82,360.23 166.75,359.9 170.9,359.9 C175.05,359.9 179.25,359.98 183.4,360.5 C187.55,361.02 191.65,361.97 195.8,363 C199.95,364.03 204.15,365.05 208.3,366.7 C212.45,368.35 216.55,371.35 220.7,372.9 C224.85,374.45 229.05,374.55 233.2,376 C237.35,377.45 242.9,380.55 245.6,381.6 C248.3,382.65 247.32,382.18 249.4,382.3 C251.48,382.42 254.58,382.38 258.1,382.3 C261.62,382.22 266.43,382.33 270.5,381.8 C274.57,381.27 278.43,380.07 282.5,379.1 C286.57,378.13 290.75,377.25 294.9,376 C299.05,374.75 304.28,372.8 307.4,371.6 C310.52,370.4 309.45,370.03 313.6,368.8 C317.75,367.57 327.12,365.7 332.3,364.2 C337.48,362.7 340.55,361.15 344.7,359.8 C348.85,358.45 352.22,357.87 357.2,356.1 C362.18,354.33 370.45,351.18 374.6,349.2 C378.75,347.22 378.78,346.48 382.1,344.2 C385.42,341.92 391.02,337.92 394.5,335.5 C397.98,333.08 400,331.72 403,329.7 C406,327.68 408.85,325.77 412.5,323.4 C416.15,321.03 420.75,317.53 424.9,315.5 C429.05,313.47 433.25,312.93 437.4,311.2 C441.55,309.47 445.65,306.95 449.8,305.1 C453.95,303.25 458.15,301.45 462.3,300.1 C466.45,298.75 470.55,297.95 474.7,297 C478.85,296.05 483.05,294.83 487.2,294.4 C491.35,293.97 496.08,294.45 499.6,294.4 C503.12,294.35 505.18,294.53 508.3,294.1 C511.42,293.67 515.6,292.3 518.3,291.8 C521,291.3 522.13,291.58 524.5,291.1 C526.87,290.62 529.1,290.05 532.5,288.9 C535.9,287.75 540.75,286.05 544.9,284.2 C549.05,282.35 553.25,280.08 557.4,277.8 C561.55,275.52 565.65,272.58 569.8,270.5 C573.95,268.42 578.15,266.72 582.3,265.3 C586.45,263.88 590.97,262.9 594.7,262 C598.43,261.1 601.37,260.52 604.7,259.9 C608.03,259.28 610.55,258.53 614.7,258.3 C618.85,258.07 625.03,258.47 629.6,258.5 C634.17,258.53 637.95,258.37 642.1,258.5 C646.25,258.63 650.18,259.18 654.5,259.3 C658.82,259.42 664.57,259.27 668,259.2 C671.43,259.13 672.47,259.2 675.1,258.9 C677.73,258.6 679.65,257.62 683.8,257.4 C687.95,257.18 695.22,257.77 700,257.6 C704.78,257.43 708.33,256.65 712.5,256.4 C716.67,256.15 720.85,255.83 725,256.1 C729.15,256.37 733.25,257.37 737.4,258 C741.55,258.63 745.75,259.17 749.9,259.9 C754.05,260.63 758.15,261.37 762.3,262.4 C766.45,263.43 771.27,265.27 774.8,266.1 C778.33,266.93 781.22,267.15 783.5,267.4 C785.78,267.65 785.6,267.57 788.5,267.6 C791.4,267.63 796.75,267.65 800.9,267.6 C805.05,267.55 810.28,267.15 813.4,267.3 C816.52,267.45 817.12,268.33 819.6,268.5 C822.08,268.67 825.4,268.5 828.3,268.3 C831.2,268.1 834.3,267.98 837,267.3 C839.7,266.62 841.8,265.28 844.5,264.2 C847.2,263.12 850.08,262.35 853.2,260.8 C856.32,259.25 859.47,257.55 863.2,254.9 C866.93,252.25 871.45,247.82 875.6,244.9 C879.75,241.98 884.62,239.48 888.1,237.4 C891.58,235.32 895.1,233.23 896.5,232.4" fill="none" stroke="#2196f3" stroke-width="1" stroke-linejoin="round" stroke-linecap="round"/>
<path d="M14.5,342.4 C16.53,342.62 22.6,343.18 26.7,343.7 C30.8,344.22 33.92,345.03 39.1,345.5 C44.28,345.97 50.53,346.23 57.8,346.5 C65.07,346.77 76.47,346.7 82.7,347.1 C88.93,347.5 91.05,348.5 95.2,348.9 C99.35,349.3 103.45,349.33 107.6,349.5 C111.75,349.67 115.95,349.77 120.1,349.9 C124.25,350.03 128.18,350.37 132.5,350.3 C136.82,350.23 141.67,349.67 146,349.5 C150.33,349.33 153.32,349.3 158.5,349.3 C163.68,349.3 171.92,349.3 177.1,349.5 C182.28,349.7 185.45,349.82 189.6,350.5 C193.75,351.18 197.85,352.57 202,353.6 C206.15,354.63 210.35,355.55 214.5,356.7 C218.65,357.85 222.75,359.32 226.9,360.5 C231.05,361.68 235.23,362.7 239.4,363.8 C243.57,364.9 247.75,366.42 251.9,367.1 C256.05,367.78 260.62,367.7 264.3,367.9 C267.98,368.1 270.97,368.37 274,368.3 C277.03,368.23 279.02,367.67 282.5,367.5 C285.98,367.33 290.75,367.65 294.9,367.3 C299.05,366.95 303.25,365.92 307.4,365.4 C311.55,364.88 315.65,364.75 319.8,364.2 C323.95,363.65 328.15,362.83 332.3,362.1 C336.45,361.37 340.55,360.5 344.7,359.8 C348.85,359.1 353.05,358.52 357.2,357.9 C361.35,357.28 365.45,356.57 369.6,356.1 C373.75,355.63 377.95,355.62 382.1,355.1 C386.25,354.58 391.02,353.58 394.5,353 C397.98,352.42 400,352.1 403,351.6 C406,351.1 408.85,350.42 412.5,350 C416.15,349.58 420.75,349.62 424.9,349.1 C429.05,348.58 433.25,347.78 437.4,346.9 C441.55,346.02 445.65,344.98 449.8,343.8 C453.95,342.62 458.15,341.1 462.3,339.8 C466.45,338.5 470.55,337.25 474.7,336 C478.85,334.75 483.05,333.23 487.2,332.3 C491.35,331.37 496.48,330.75 499.6,330.4 C502.72,330.05 502.78,330.72 505.9,330.2 C509.02,329.68 514.15,328.4 518.3,327.3 C522.45,326.2 526.37,325.17 530.8,323.6 C535.23,322.03 540.47,319.78 544.9,317.9 C549.33,316.02 553.25,314.58 557.4,312.3 C561.55,310.02 565.65,306.68 569.8,304.2 C573.95,301.72 578.15,299.58 582.3,297.4 C586.45,295.22 590.55,292.87 594.7,291.1 C598.85,289.33 603.05,288.08 607.2,286.8 C611.35,285.52 615.45,284.38 619.6,283.4 C623.75,282.42 627.95,281.58 632.1,280.9 C636.25,280.22 640.43,279.72 644.5,279.3 C648.57,278.88 652.43,278.82 656.5,278.4 C660.57,277.98 664.75,277.18 668.9,276.8 C673.05,276.42 677.25,276.43 681.4,276.1 C685.55,275.77 689.65,275.12 693.8,274.8 C697.95,274.48 702.15,274.72 706.3,274.2 C710.45,273.68 714.55,272.63 718.7,271.7 C722.85,270.77 727.05,269.43 731.2,268.6 C735.35,267.77 739.45,267.32 743.6,266.7 C747.75,266.08 751.95,265.25 756.1,264.9 C760.25,264.55 764.52,264.82 768.5,264.6 C772.48,264.38 776.67,263.88 780,263.6 C783.33,263.32 785.43,263.15 788.5,262.9 C791.57,262.65 795.3,262.03 798.4,262.1 C801.5,262.17 802.53,263.1 807.1,263.3 C811.67,263.5 820.6,263.37 825.8,263.3 C831,263.23 834.15,263.27 838.3,262.9 C842.45,262.53 846.55,262.23 850.7,261.1 C854.85,259.97 859.05,257.67 863.2,256.1 C867.35,254.53 871.45,253.2 875.6,251.7 C879.75,250.2 884.62,248.3 888.1,247.1 C891.58,245.9 895.1,244.93 896.5,244.5" fill="none" stroke="#e11d74" stroke-width="1" stroke-linejoin="round" stroke-linecap="round"/>
<line x1="11" y1="142.5" x2="1061" y2="142.5" stroke="#f23645" stroke-width="1" stroke-dasharray="4 4"/>
<g fill="none" stroke="#333" stroke-width="1"><path d="M224.5,454.5 V459.5 H229.5 M222.5,456.5 L224.5,454.3 L226.5,456.5"/><path d="M872.5,119.5 V113.5 H878 M870.5,117.5 L872.5,119.8 L874.5,117.5"/></g>
<text x="234.5" y="462" font-size="10" fill="#333">1810.30</text>
<text x="882.5" y="117" font-size="10" fill="#333">2194.99</text>
<g><rect x="12.5" y="548.7" width="3" height="11.37" fill="none" stroke="#f23645" stroke-width="1"/><rect x="18.5" y="548.7" width="3" height="8.96" fill="none" stroke="#f23645" stroke-width="1"/><rect x="24.5" y="548.7" width="3" height="6.32" fill="none" stroke="#f23645" stroke-width="1"/><rect x="30.5" y="548.7" width="3" height="1.45" fill="none" stroke="#f23645" stroke-width="1"/><rect x="36" y="546.97" width="4" height="1.23" fill="#089981"/><rect x="42.5" y="545.15" width="3" height="2.55" fill="none" stroke="#089981" stroke-width="1"/><rect x="48.5" y="542.98" width="3" height="4.72" fill="none" stroke="#089981" stroke-width="1"/><rect x="54.5" y="539.11" width="3" height="8.59" fill="none" stroke="#089981" stroke-width="1"/><rect x="60.5" y="536.1" width="3" height="11.6" fill="none" stroke="#089981" stroke-width="1"/><rect x="66.5" y="535.07" width="3" height="12.63" fill="none" stroke="#089981" stroke-width="1"/><rect x="72.5" y="534.89" width="3" height="12.81" fill="none" stroke="#089981" stroke-width="1"/><rect x="78" y="535.32" width="4" height="12.88" fill="#089981"/><rect x="84" y="538.29" width="4" height="9.91" fill="#089981"/><rect x="90" y="542.03" width="4" height="6.17" fill="#089981"/><rect x="96" y="544.15" width="4" height="4.05" fill="#089981"/><rect x="102" y="545.86" width="4" height="2.34" fill="#089981"/><rect x="108" y="546.47" width="4" height="1.73" fill="#089981"/><rect x="114" y="548.05" width="4" height="1" fill="#089981"/><rect x="120" y="548.2" width="4" height="1.72" fill="#f23645"/><rect x="126" y="548.2" width="4" height="2.44" fill="#f23645"/><rect x="132" y="548.2" width="4" height="1" fill="#f23645"/><rect x="138" y="546.3" width="4" height="1.9" fill="#089981"/><rect x="144.5" y="545.54" width="3" height="2.16" fill="none" stroke="#089981" stroke-width="1"/><rect x="150.5" y="545.26" width="3" height="2.44" fill="none" stroke="#089981" stroke-width="1"/><rect x="156" y="545.97" width="4" height="2.23" fill="#089981"/><rect x="162" y="546.07" width="4" height="2.13" fill="#089981"/><rect x="168" y="547.59" width="4" height="1" fill="#089981"/><rect x="174" y="548.2" width="4" height="2.77" fill="#f23645"/><rect x="180" y="548.2" width="4" height="8.32" fill="#f23645"/><rect x="186" y="548.2" width="4" height="12.9" fill="#f23645"/><rect x="192" y="548.2" width="4" height="17.48" fill="#f23645"/><rect x="198" y="548.2" width="4" height="22.4" fill="#f23645"/><rect x="204" y="548.2" width="4" height="24.87" fill="#f23645"/><rect x="210" y="548.2" width="4" height="25.19" fill="#f23645"/><rect x="216.5" y="548.7" width="3" height="23.01" fill="none" stroke="#f23645" stroke-width="1"/><rect x="222.5" y="548.7" width="3" height="18.81" fill="none" stroke="#f23645" stroke-width="1"/><rect x="228.5" y="548.7" width="3" height="10.45" fill="none" stroke="#f23645" stroke-width="1"/><rect x="234.5" y="548.7" width="3" height="4.35" fill="none" stroke="#f23645" stroke-width="1"/><rect x="240" y="546.95" width="4" height="1.25" fill="#089981"/><rect x="246.5" y="543.83" width="3" height="3.87" fill="none" stroke="#089981" stroke-width="1"/><rect x="252.5" y="531.93" width="3" height="15.77" fill="none" stroke="#089981" stroke-width="1"/><rect x="258.5" y="526.84" width="3" height="20.86" fill="none" stroke="#089981" stroke-width="1"/><rect x="264.5" y="524.05" width="3" height="23.65" fill="none" stroke="#089981" stroke-width="1"/><rect x="270.5" y="519.67" width="3" height="28.03" fill="none" stroke="#089981" stroke-width="1"/><rect x="276.5" y="514.28" width="3" height="33.42" fill="none" stroke="#089981" stroke-width="1"/><rect x="282.5" y="511.58" width="3" height="36.12" fill="none" stroke="#089981" stroke-width="1"/><rect x="288" y="512.49" width="4" height="35.71" fill="#089981"/><rect x="294" y="515.6" width="4" height="32.6" fill="#089981"/><rect x="300" y="518.21" width="4" height="29.99" fill="#089981"/><rect x="306" y="520.77" width="4" height="27.43" fill="#089981"/><rect x="312" y="520.94" width="4" height="27.26" fill="#089981"/><rect x="318" y="524.31" width="4" height="23.89" fill="#089981"/><rect x="324" y="529.78" width="4" height="18.42" fill="#089981"/><rect x="330" y="534.81" width="4" height="13.39" fill="#089981"/><rect x="336" y="538.61" width="4" height="9.59" fill="#089981"/><rect x="342" y="540.89" width="4" height="7.31" fill="#089981"/><rect x="348" y="545.41" width="4" height="2.79" fill="#089981"/><rect x="354" y="548.2" width="4" height="2.09" fill="#f23645"/><rect x="360" y="548.2" width="4" height="8.26" fill="#f23645"/><rect x="366" y="548.2" width="4" height="10.98" fill="#f23645"/><rect x="372" y="548.2" width="4" height="15.53" fill="#f23645"/><rect x="378" y="548.2" width="4" height="16.94" fill="#f23645"/><rect x="384.5" y="548.7" width="3" height="13.68" fill="none" stroke="#f23645" stroke-width="1"/><rect x="390.5" y="548.7" width="3" height="12.35" fill="none" stroke="#f23645" stroke-width="1"/><rect x="396.5" y="548.7" width="3" height="7.89" fill="none" stroke="#f23645" stroke-width="1"/><rect x="402.5" y="548.7" width="3" height="5.06" fill="none" stroke="#f23645" stroke-width="1"/><rect x="408.5" y="548.7" width="3" height="3.73" fill="none" stroke="#f23645" stroke-width="1"/><rect x="414" y="548.2" width="4" height="1" fill="#f23645"/><rect x="420" y="547.89" width="4" height="1" fill="#089981"/><rect x="426" y="547.04" width="4" height="1.16" fill="#089981"/><rect x="432.5" y="545.93" width="3" height="1.77" fill="none" stroke="#089981" stroke-width="1"/><rect x="438.5" y="543.61" width="3" height="4.09" fill="none" stroke="#089981" stroke-width="1"/><rect x="444.5" y="538.76" width="3" height="8.94" fill="none" stroke="#089981" stroke-width="1"/><rect x="450.5" y="536.04" width="3" height="11.66" fill="none" stroke="#089981" stroke-width="1"/><rect x="456" y="535.98" width="4" height="12.22" fill="#089981"/><rect x="462.5" y="532.47" width="3" height="15.23" fill="none" stroke="#089981" stroke-width="1"/><rect x="468" y="537" width="4" height="11.2" fill="#089981"/><rect x="474" y="542.77" width="4" height="5.43" fill="#089981"/><rect x="480" y="546.12" width="4" height="2.08" fill="#089981"/><rect x="486" y="548.2" width="4" height="1" fill="#f23645"/><rect x="492" y="548.2" width="4" height="5.51" fill="#f23645"/><rect x="498" y="548.2" width="4" height="12.43" fill="#f23645"/><rect x="504" y="548.2" width="4" height="16.88" fill="#f23645"/><rect x="510.5" y="548.7" width="3" height="10.92" fill="none" stroke="#f23645" stroke-width="1"/><rect x="516.5" y="548.7" width="3" height="6.26" fill="none" stroke="#f23645" stroke-width="1"/><rect x="522.5" y="548.7" width="3" height="5.65" fill="none" stroke="#f23645" stroke-width="1"/><rect x="528.5" y="548.7" width="3" height="4.24" fill="none" stroke="#f23645" stroke-width="1"/><rect x="534.5" y="548.7" width="3" height="1.45" fill="none" stroke="#f23645" stroke-width="1"/><rect x="540" y="548.2" width="4" height="2.08" fill="#f23645"/><rect x="546" y="548.13" width="4" height="1" fill="#089981"/><rect x="552.5" y="546.38" width="3" height="1.32" fill="none" stroke="#089981" stroke-width="1"/><rect x="558.5" y="543.28" width="3" height="4.42" fill="none" stroke="#089981" stroke-width="1"/><rect x="564.5" y="540.4" width="3" height="7.3" fill="none" stroke="#089981" stroke-width="1"/><rect x="570" y="540.67" width="4" height="7.53" fill="#089981"/><rect x="576" y="542.17" width="4" height="6.03" fill="#089981"/><rect x="582" y="544.37" width="4" height="3.83" fill="#089981"/><rect x="588" y="548.2" width="4" height="1" fill="#f23645"/><rect x="594" y="548.2" width="4" height="3.74" fill="#f23645"/><rect x="600" y="548.2" width="4" height="5.46" fill="#f23645"/><rect x="606" y="548.2" width="4" height="9.13" fill="#f23645"/><rect x="612" y="548.2" width="4" height="10.94" fill="#f23645"/><rect x="618" y="548.2" width="4" height="12.61" fill="#f23645"/><rect x="624" y="548.2" width="4" height="12.65" fill="#f23645"/><rect x="630.5" y="548.7" width="3" height="8.29" fill="none" stroke="#f23645" stroke-width="1"/><rect x="636.5" y="548.7" width="3" height="5.02" fill="none" stroke="#f23645" stroke-width="1"/><rect x="642" y="548.2" width="4" height="7.8" fill="#f23645"/><rect x="648" y="548.2" width="4" height="11.97" fill="#f23645"/><rect x="654.5" y="548.7" width="3" height="10.52" fill="none" stroke="#f23645" stroke-width="1"/><rect x="660.5" y="548.7" width="3" height="8.9" fill="none" stroke="#f23645" stroke-width="1"/><rect x="666.5" y="548.7" width="3" height="8.54" fill="none" stroke="#f23645" stroke-width="1"/><rect x="672.5" y="548.7" width="3" height="6.99" fill="none" stroke="#f23645" stroke-width="1"/><rect x="678" y="548.2" width="4" height="8.61" fill="#f23645"/><rect x="684.5" y="548.7" width="3" height="6.68" fill="none" stroke="#f23645" stroke-width="1"/><rect x="690.5" y="548.7" width="3" height="6.08" fill="none" stroke="#f23645" stroke-width="1"/><rect x="696.5" y="548.7" width="3" height="3.26" fill="none" stroke="#f23645" stroke-width="1"/><rect x="702" y="548.2" width="4" height="1.7" fill="#f23645"/><rect x="708" y="547.73" width="4" height="1" fill="#089981"/><rect x="714.5" y="544.67" width="3" height="3.03" fill="none" stroke="#089981" stroke-width="1"/><rect x="720" y="544.37" width="4" height="3.83" fill="#089981"/><rect x="726" y="546.94" width="4" height="1.26" fill="#089981"/><rect x="732" y="546.88" width="4" height="1.32" fill="#089981"/><rect x="738" y="546.91" width="4" height="1.29" fill="#089981"/><rect x="744" y="547.63" width="4" height="1" fill="#089981"/><rect x="750" y="548.2" width="4" height="1.1" fill="#f23645"/><rect x="756" y="548.2" width="4" height="2.84" fill="#f23645"/><rect x="762" y="548.2" width="4" height="7.78" fill="#f23645"/><rect x="768" y="548.2" width="4" height="10.65" fill="#f23645"/><rect x="774.5" y="548.7" width="3" height="8.96" fill="none" stroke="#f23645" stroke-width="1"/><rect x="780.5" y="548.7" width="3" height="6.73" fill="none" stroke="#f23645" stroke-width="1"/><rect x="786.5" y="548.7" width="3" height="4.27" fill="none" stroke="#f23645" stroke-width="1"/><rect x="792.5" y="548.7" width="3" height="1.23" fill="none" stroke="#f23645" stroke-width="1"/><rect x="798" y="547.47" width="4" height="1" fill="#089981"/><rect x="804.5" y="546.33" width="3" height="1.37" fill="none" stroke="#089981" stroke-width="1"/><rect x="810.5" y="544.22" width="3" height="3.48" fill="none" stroke="#089981" stroke-width="1"/><rect x="816.5" y="543.75" width="3" height="3.95" fill="none" stroke="#089981" stroke-width="1"/><rect x="822" y="543.44" width="4" height="4.76" fill="#089981"/><rect x="828.5" y="543.45" width="3" height="4.25" fill="none" stroke="#089981" stroke-width="1"/><rect x="834.5" y="542.04" width="3" height="5.66" fill="none" stroke="#089981" stroke-width="1"/><rect x="840.5" y="535.74" width="3" height="11.96" fill="none" stroke="#089981" stroke-width="1"/><rect x="846.5" y="527.81" width="3" height="19.89" fill="none" stroke="#089981" stroke-width="1"/><rect x="852.5" y="521.92" width="3" height="25.78" fill="none" stroke="#089981" stroke-width="1"/><rect x="858.5" y="516.8" width="3" height="30.9" fill="none" stroke="#089981" stroke-width="1"/><rect x="864.5" y="513.59" width="3" height="34.11" fill="none" stroke="#089981" stroke-width="1"/><rect x="870.5" y="510.88" width="3" height="36.82" fill="none" stroke="#089981" stroke-width="1"/><rect x="876" y="510.55" width="4" height="37.65" fill="#089981"/><rect x="882" y="516.68" width="4" height="31.52" fill="#089981"/><rect x="888" y="520.27" width="4" height="27.93" fill="#089981"/><rect x="894" y="525.08" width="4" height="23.12" fill="#089981"/></g>
<path d="M14,566.05 C15,566.06 18,566.15 20,566.09 C22,566.03 24,566.11 26,565.69 C28,565.27 30,564.25 32,563.56 C34,562.87 36,562.17 38,561.57 C40,560.97 42,560.53 44,559.96 C46,559.39 48,558.99 50,558.16 C52,557.34 54,556.06 56,555.03 C58,553.99 60,552.83 62,551.95 C64,551.07 66,550.4 68,549.73 C70,549.05 72,548.41 74,547.91 C76,547.42 78,546.92 80,546.77 C82,546.62 84,546.79 86,547.01 C88,547.24 90,547.84 92,548.11 C94,548.39 96,548.48 98,548.66 C100,548.85 102,549.12 104,549.23 C106,549.33 108,549.17 110,549.32 C112,549.46 114,549.77 116,550.09 C118,550.41 120,550.94 122,551.24 C124,551.54 126,551.91 128,551.9 C130,551.9 132,551.58 134,551.2 C136,550.81 138,550.04 140,549.6 C142,549.16 144,548.84 146,548.57 C148,548.31 150,548.05 152,548.01 C154,547.97 156,548.31 158,548.33 C160,548.35 162,548.04 164,548.12 C166,548.19 168,548.34 170,548.8 C172,549.25 174,549.86 176,550.83 C178,551.81 180,553.36 182,554.65 C184,555.93 186,557.15 188,558.55 C190,559.94 192,561.4 194,563.02 C196,564.65 198,566.69 200,568.29 C202,569.89 204,571.35 206,572.63 C208,573.9 210,574.98 212,575.94 C214,576.89 216,577.89 218,578.35 C220,578.81 222,579.12 224,578.72 C226,578.33 228,576.83 230,575.97 C232,575.12 234,574.57 236,573.6 C238,572.62 240,571.12 242,570.14 C244,569.16 246,569.46 248,567.72 C250,565.97 252,561.9 254,559.68 C256,557.45 258,556.02 260,554.39 C262,552.77 264,551.63 266,549.92 C268,548.2 270,546.23 272,544.1 C274,541.96 276,539.26 278,537.1 C280,534.93 282,532.73 284,531.11 C286,529.48 288,528.4 290,527.35 C292,526.31 294,525.66 296,524.83 C298,524.01 300,523.15 302,522.39 C304,521.62 306,521.15 308,520.24 C310,519.33 312,517.69 314,516.92 C316,516.15 318,515.76 320,515.62 C322,515.47 324,515.84 326,516.05 C328,516.26 330,516.63 332,516.89 C334,517.15 336,517.44 338,517.59 C340,517.75 342,517.46 344,517.82 C346,518.17 348,518.96 350,519.73 C352,520.5 354,521.29 356,522.43 C358,523.56 360,525.41 362,526.55 C364,527.69 366,528.12 368,529.28 C370,530.44 372,532.32 374,533.5 C376,534.67 378,535.73 380,536.32 C382,536.91 384,536.74 386,537.03 C388,537.31 390,538.05 392,538.03 C394,538.01 396,537.2 398,536.91 C400,536.61 402,536.37 404,536.25 C406,536.13 408,536.52 410,536.18 C412,535.84 414,534.62 416,534.21 C418,533.79 420,533.88 422,533.7 C424,533.52 426,533.42 428,533.13 C430,532.84 432,532.47 434,531.98 C436,531.49 438,531.09 440,530.18 C442,529.27 444,527.62 446,526.52 C448,525.41 450,524.28 452,523.57 C454,522.86 456,523.15 458,522.26 C460,521.37 462,518.72 464,518.23 C466,517.74 468,518.79 470,519.35 C472,519.9 474,520.95 476,521.55 C478,522.16 480,522.54 482,522.97 C484,523.4 486,523.38 488,524.13 C490,524.89 492,526.09 494,527.48 C496,528.87 498,530.93 500,532.49 C502,534.05 504,536.27 506,536.83 C508,537.38 510,536.24 512,535.84 C514,535.44 516,534.56 518,534.42 C520,534.27 522,534.86 524,534.94 C526,535.02 528,535.08 530,534.89 C532,534.7 534,533.97 536,533.8 C538,533.63 540,534.04 542,533.88 C544,533.71 546,533.21 548,532.79 C550,532.37 552,531.98 554,531.38 C556,530.77 558,529.94 560,529.15 C562,528.37 564,527.18 566,526.67 C568,526.16 570,526.21 572,526.12 C574,526.02 576,526.01 578,526.11 C580,526.21 582,526.24 584,526.73 C586,527.23 588,528.36 590,529.08 C592,529.81 594,530.49 596,531.07 C598,531.66 600,531.86 602,532.62 C604,533.37 606,534.72 608,535.59 C610,536.46 612,537.08 614,537.86 C616,538.64 618,539.6 620,540.27 C622,540.94 624,541.69 626,541.87 C628,542.05 630,541.59 632,541.35 C634,541.12 636,540.31 638,540.47 C640,540.64 642,541.43 644,542.34 C646,543.24 648,545.12 650,545.92 C652,546.72 654,546.86 656,547.13 C658,547.41 660,547.32 662,547.56 C664,547.8 666,548.37 668,548.58 C670,548.78 672,548.53 674,548.8 C676,549.07 678,549.87 680,550.18 C682,550.5 684,550.5 686,550.68 C688,550.86 690,551.31 692,551.27 C694,551.22 696,550.71 698,550.38 C700,550.06 702,549.69 704,549.32 C706,548.95 708,548.75 710,548.17 C712,547.6 714,546.33 716,545.89 C718,545.45 720,545.39 722,545.51 C724,545.64 726,546.48 728,546.64 C730,546.79 732,546.5 734,546.45 C736,546.39 738,546.28 740,546.3 C742,546.33 744,546.38 746,546.59 C748,546.8 750,547.19 752,547.56 C754,547.92 756,548.01 758,548.78 C760,549.56 762,551.2 764,552.23 C766,553.27 768,554.38 770,554.99 C772,555.6 774,555.77 776,555.89 C778,556.02 780,555.86 782,555.74 C784,555.62 786,555.47 788,555.17 C790,554.87 792,554.4 794,553.93 C796,553.46 798,552.81 800,552.36 C802,551.91 804,551.7 806,551.24 C808,550.79 810,550.04 812,549.63 C814,549.22 816,549 818,548.78 C820,548.55 822,548.51 824,548.28 C826,548.04 828,547.78 830,547.37 C832,546.97 834,546.89 836,545.84 C838,544.79 840,542.96 842,541.07 C844,539.18 846,536.64 848,534.49 C850,532.35 852,530.34 854,528.2 C856,526.06 858,523.74 860,521.65 C862,519.56 864,517.67 866,515.66 C868,513.64 870,511.36 872,509.57 C874,507.79 876,505.87 878,504.95 C880,504.04 882,504.51 884,504.08 C886,503.65 888,502.75 890,502.38 C892,502.02 895,501.98 896,501.9" fill="none" stroke="#ff9800" stroke-width="1" stroke-linejoin="round" stroke-linecap="round"/>
<path d="M14,559.87 C15,560.07 18,560.75 20,561.11 C22,561.47 24,561.82 26,562.03 C28,562.23 30,562.31 32,562.33 C34,562.36 36,562.28 38,562.18 C40,562.08 42,561.93 44,561.74 C46,561.54 48,561.34 50,561.02 C52,560.7 54,560.28 56,559.82 C58,559.36 60,558.79 62,558.25 C64,557.7 66,557.12 68,556.54 C70,555.97 72,555.37 74,554.82 C76,554.26 78,553.68 80,553.21 C82,552.73 84,552.3 86,551.97 C88,551.63 90,551.41 92,551.2 C94,550.98 96,550.82 98,550.69 C100,550.56 102,550.48 104,550.4 C106,550.31 108,550.22 110,550.18 C112,550.14 114,550.13 116,550.16 C118,550.2 120,550.29 122,550.38 C124,550.47 126,550.62 128,550.68 C130,550.75 132,550.81 134,550.79 C136,550.76 138,550.65 140,550.55 C142,550.44 144,550.29 146,550.15 C148,550.02 150,549.84 152,549.72 C154,549.61 156,549.54 158,549.45 C160,549.35 162,549.24 164,549.18 C166,549.12 168,549.06 170,549.1 C172,549.15 174,549.22 176,549.45 C178,549.68 180,550.05 182,550.49 C184,550.93 186,551.47 188,552.1 C190,552.73 192,553.45 194,554.28 C196,555.12 198,556.1 200,557.08 C202,558.07 204,559.15 206,560.19 C208,561.24 210,562.32 212,563.34 C214,564.37 216,565.43 218,566.34 C220,567.26 222,568.17 224,568.82 C226,569.47 228,569.9 230,570.25 C232,570.6 234,570.83 236,570.92 C238,571.01 240,570.89 242,570.76 C244,570.64 246,570.61 248,570.15 C250,569.7 252,568.86 254,568.06 C256,567.25 258,566.29 260,565.33 C262,564.36 264,563.36 266,562.24 C268,561.13 270,559.94 272,558.61 C274,557.29 276,555.8 278,554.31 C280,552.82 282,551.19 284,549.67 C286,548.15 288,546.63 290,545.21 C292,543.78 294,542.44 296,541.13 C298,539.83 300,538.58 302,537.38 C304,536.19 306,535.09 308,533.95 C310,532.82 312,531.61 314,530.55 C316,529.48 318,528.44 320,527.56 C322,526.68 324,525.92 326,525.26 C328,524.6 330,524.06 332,523.59 C334,523.11 336,522.74 338,522.39 C340,522.03 342,521.68 344,521.47 C346,521.26 348,521.14 350,521.12 C352,521.11 354,521.17 356,521.39 C358,521.6 360,522.02 362,522.42 C364,522.82 366,523.24 368,523.79 C370,524.34 372,525.05 374,525.73 C376,526.41 378,527.19 380,527.85 C382,528.51 384,529.1 386,529.68 C388,530.27 390,530.89 392,531.35 C394,531.82 396,532.15 398,532.46 C400,532.78 402,533 404,533.22 C406,533.45 408,533.7 410,533.81 C412,533.92 414,533.88 416,533.89 C418,533.9 420,533.88 422,533.85 C424,533.82 426,533.79 428,533.71 C430,533.63 432,533.53 434,533.36 C436,533.2 438,533.04 440,532.73 C442,532.41 444,531.96 446,531.48 C448,531.01 450,530.42 452,529.9 C454,529.38 456,528.97 458,528.37 C460,527.78 462,526.92 464,526.35 C466,525.77 468,525.29 470,524.95 C472,524.6 474,524.42 476,524.27 C478,524.11 480,524.05 482,524.01 C484,523.97 486,523.91 488,524.03 C490,524.15 492,524.35 494,524.72 C496,525.1 498,525.66 500,526.28 C502,526.89 504,527.79 506,528.39 C508,528.99 510,529.48 512,529.88 C514,530.28 516,530.49 518,530.78 C520,531.07 522,531.37 524,531.62 C526,531.86 528,532.11 530,532.27 C532,532.43 534,532.48 536,532.58 C538,532.67 540,532.79 542,532.84 C544,532.88 546,532.88 548,532.83 C550,532.78 552,532.7 554,532.54 C556,532.38 558,532.15 560,531.86 C562,531.57 564,531.15 566,530.82 C568,530.49 570,530.16 572,529.88 C574,529.6 576,529.33 578,529.13 C580,528.92 582,528.71 584,528.65 C586,528.58 588,528.64 590,528.73 C592,528.83 594,529.01 596,529.2 C598,529.39 600,529.58 602,529.89 C604,530.19 606,530.61 608,531.03 C610,531.44 612,531.9 614,532.39 C616,532.88 618,533.44 620,533.97 C622,534.5 624,535.09 626,535.55 C628,536.01 630,536.39 632,536.71 C634,537.03 636,537.17 638,537.46 C640,537.75 642,538.03 644,538.44 C646,538.85 648,539.44 650,539.93 C652,540.42 654,540.93 656,541.37 C658,541.82 660,542.21 662,542.61 C664,543.02 666,543.44 668,543.8 C670,544.17 672,544.46 674,544.8 C676,545.15 678,545.54 680,545.88 C682,546.22 684,546.53 686,546.84 C688,547.15 690,547.49 692,547.72 C694,547.96 696,548.13 698,548.26 C700,548.38 702,548.44 704,548.47 C706,548.49 708,548.5 710,548.41 C712,548.32 714,548.07 716,547.91 C718,547.74 720,547.53 722,547.43 C724,547.32 726,547.32 728,547.27 C730,547.22 732,547.16 734,547.11 C736,547.05 738,546.98 740,546.94 C742,546.91 744,546.86 746,546.87 C748,546.88 750,546.93 752,547.01 C754,547.09 756,547.14 758,547.36 C760,547.59 762,547.95 764,548.34 C766,548.72 768,549.24 770,549.67 C772,550.1 774,550.55 776,550.91 C778,551.28 780,551.61 782,551.88 C784,552.15 786,552.38 788,552.54 C790,552.69 792,552.79 794,552.82 C796,552.85 798,552.79 800,552.73 C802,552.66 804,552.57 806,552.43 C808,552.29 810,552.06 812,551.87 C814,551.67 816,551.45 818,551.25 C820,551.05 822,550.86 824,550.66 C826,550.45 828,550.25 830,550 C832,549.75 834,549.58 836,549.17 C838,548.76 840,548.25 842,547.55 C844,546.84 846,545.93 848,544.94 C850,543.94 852,542.81 854,541.59 C856,540.37 858,539 860,537.6 C862,536.21 864,534.73 866,533.21 C868,531.69 870,530.06 872,528.48 C874,526.91 876,525.22 878,523.78 C880,522.34 882,521.08 884,519.84 C886,518.6 888,517.41 890,516.35 C892,515.28 895,513.94 896,513.46" fill="none" stroke="#9d65c9" stroke-width="1" stroke-linejoin="round" stroke-linecap="round"/>
<g stroke="#e2e4ef" stroke-width="1" fill="none"><line x1="11" y1="485.5" x2="1117" y2="485.5"/><line x1="11" y1="586.5" x2="1062" y2="586.5"/><line x1="1061.5" y1="55" x2="1061.5" y2="586.5"/></g>
<g stroke="#e2e4ef" stroke-width="1"><line x1="1062" y1="100.5" x2="1065" y2="100.5"/><line x1="1062" y1="151.5" x2="1065" y2="151.5"/><line x1="1062" y1="203.5" x2="1065" y2="203.5"/><line x1="1062" y1="254.5" x2="1065" y2="254.5"/><line x1="1062" y1="306.5" x2="1065" y2="306.5"/><line x1="1062" y1="358.5" x2="1065" y2="358.5"/><line x1="1062" y1="409.5" x2="1065" y2="409.5"/><line x1="1062" y1="461.5" x2="1065" y2="461.5"/><line x1="1062" y1="501.5" x2="1065" y2="501.5"/><line x1="1062" y1="524.5" x2="1065" y2="524.5"/><line x1="1062" y1="548.5" x2="1065" y2="548.5"/><line x1="1062" y1="571.5" x2="1065" y2="571.5"/><line x1="62.5" y1="587" x2="62.5" y2="590"/><line x1="182.5" y1="587" x2="182.5" y2="590"/><line x1="302.5" y1="587" x2="302.5" y2="590"/><line x1="422.5" y1="587" x2="422.5" y2="590"/><line x1="542.5" y1="587" x2="542.5" y2="590"/><line x1="662.5" y1="587" x2="662.5" y2="590"/><line x1="782.5" y1="587" x2="782.5" y2="590"/></g>
<g font-size="11" fill="#111"><text x="1068" y="103.1">2220.00</text><text x="1068" y="154.1">2160.00</text><text x="1068" y="206.1">2100.00</text><text x="1068" y="257.1">2040.00</text><text x="1068" y="309.1">1980.00</text><text x="1068" y="361.1">1920.00</text><text x="1068" y="412.1">1860.00</text><text x="1068" y="464.1">1800.00</text><text x="1068" y="504.3">40.0000</text><text x="1068" y="527.3">20.0000</text><text x="1068" y="551">0.0000</text><text x="1068" y="574.3">-20.0000</text><text x="62" y="602" text-anchor="middle">2023-08</text><text x="182" y="602" text-anchor="middle">2023-09</text><text x="302" y="602" text-anchor="middle">2023-10</text><text x="422" y="602" text-anchor="middle">2023-11</text><text x="542" y="602" text-anchor="middle">2023-12</text><text x="662" y="602" text-anchor="middle">2024</text><text x="782" y="602" text-anchor="middle">2024-02</text></g>
<rect x="1061" y="134" width="49" height="16" rx="2" fill="#f23645"/><text x="1063.2" y="144.8" font-size="12.4" fill="#fff" stroke="#fff" stroke-width="0.2">2170.60</text>
<g font-size="10"><text x="19" y="69.2" fill="#333">MA(5,10,30,60)</text><text x="104.3" y="69.2" fill="#ff9800">MA5: 2172.88</text><text x="182.2" y="69.2" fill="#9d65c9">MA10: 2149.71</text><text x="266.4" y="69.2" fill="#2196f3">MA30: 2065.89</text><text x="350.1" y="69.2" fill="#e11d74">MA60: 2052.17</text></g>
<g font-size="10"><text x="19.4" y="500" fill="#333">MACD(12,26,9)</text><text x="104.3" y="500" fill="#ff9800">DIF: 39.7991</text><text x="178.7" y="500" fill="#9d65c9">DEA: 29.8651</text><text x="256.4" y="500" fill="#26a69a">MACD: 19.8680</text></g></svg>
<svg class="icons" width="1124" height="30" viewBox="0 0 1124 30" fill="none" stroke="#8a8a8d" stroke-width="1.2" stroke-linecap="round" stroke-linejoin="round">
<!-- left panel icon -->
<path d="M21,8 H25 V22 H21 Q19,22 19,20 V10 Q19,8 21,8 Z" fill="#8a8a8d" stroke="none"/><rect x="19.5" y="8.5" width="13" height="13" rx="1.6" stroke-width="1.1"/>
<!-- refresh -->
<path d="M901.7,15.4 A6.3,6.3 0 1 1 899.6,10.4"/><path d="M901.6,8.3 V11.5 H898.3" stroke-width="1.1"/>
<!-- crop/edit -->
<path d="M920.5,8 V21.5 M918,9.5 H931.5 M931.5,9.5 V13.4 M920.5,20.2 H924.5"/><path d="M919,9.8 L920.5,8 L922,9.8 M930,8.2 L931.8,9.5 L930,10.9 M919,19.8 L920.5,21.6 L922,19.8" stroke-width="1"/><path d="M926.4,21.2 L931.6,16.2" stroke-width="2.2" stroke-linecap="butt"/>
<!-- data line -->
<rect x="948.8" y="9.2" width="13.4" height="9" rx="1"/><path d="M955.5,7.6 V9 M952.3,18.5 L949.6,21.6 M958.7,18.5 L961.4,21.6" /><path d="M951.5,15.4 L954,12.8 L956,14.4 L959.6,11.2" stroke-width="1"/>
<!-- pie -->
<path d="M983.3,9.7 A6,6 0 1 0 990.2,16.2 H983.3 Z"/><path d="M985.6,7.6 A6.4,6.4 0 0 1 992.2,13.9 H985.6 Z"/>
<!-- percent -->
<circle cx="1011.6" cy="11.6" r="2.3"/><circle cx="1019" cy="18.4" r="2.3"/><path d="M1020.6,9.6 L1009.6,20.4"/>
<!-- grid -->
<rect x="1039.6" y="9" width="4.6" height="4.6" rx="1"/><rect x="1047" y="9" width="4.6" height="4.6" rx="1"/><rect x="1039.6" y="16" width="4.6" height="4.6" rx="1"/><rect x="1047" y="16" width="4.6" height="4.6" rx="1"/>
<!-- sort -->
<path d="M1072.2,21 V9.2 L1068.8,13 M1077.6,9 V20.8 L1081.2,16.8"/>
<!-- right panel icon -->
<path d="M1103,8 H1107 Q1109,8 1109,10 V20 Q1109,22 1107,22 H1103 Z" fill="#8a8a8d" stroke="none"/><rect x="1095.5" y="8.5" width="13" height="13" rx="1.6" stroke-width="1.1"/>
</svg>
<div class="title">黄金</div>
<div class="l2"><span class="lb" style="left:17.5px">开:</span><span class="r" style="left:39.7px">2174.02</span><span class="lb" style="left:91.8px">高:</span><span class="g" style="left:113.7px">2176.85</span><span class="lb" style="left:165.4px">低:</span><span class="r" style="left:187.5px">2167.32</span><span class="lb" style="left:239.4px">收:</span><span class="r" style="left:261.5px">2170.60</span><span class="lb" style="left:313.2px">时间:</span><span class="k" style="left:346.2px">2024-03-14 05:00</span></div>
<div class="trade">
<svg width="276" height="56" style="position:absolute;left:0;top:0"><g fill="#fff"><rect x="8.5" y="20.5" width="2" height="2"/><rect x="13.2" y="20.5" width="2" height="2"/><rect x="8.5" y="26.5" width="2" height="2"/><rect x="13.2" y="26.5" width="2" height="2"/><rect x="8.5" y="32.5" width="2" height="2"/><rect x="13.2" y="32.5" width="2" height="2"/></g>
<path d="M28,10 H136.5 Q142.6,10 140.4,15.2 L130.2,41.6 Q128.4,46 123.6,46 H28 Q22,46 22,40 V16 Q22,10 28,10 Z" fill="#f23645"/>
<path d="M164.4,10 H256 Q262,10 262,16 V40 Q262,46 256,46 H149.5 Q143.4,46 145.6,40.8 L155.8,14.4 Q157.6,10 162.4,10 Z" fill="#089981"/></svg>
<div class="btn" style="left:46.5px"><span>卖出 2170.60</span></div>
<div class="btn" style="left:166.3px"><span>买入 2170.96</span></div>
</div>
<div class="tabs"><span class="bg"></span><span class="" style="left:26.4px">分时</span><span class="" style="left:77.1px">2日</span><span class="" style="left:123.4px">1分</span><span class="" style="left:169px">5分</span><span class="" style="left:214.7px">15分</span><span class="" style="left:266.4px">30分</span><span class="" style="left:319.5px">1小时</span><span class="" style="left:376.1px">2小时</span><span class="" style="left:434.2px">4小时</span><span class="on" style="left:491.7px">日K</span><span class="" style="left:539px">周K</span><span class="" style="left:586.4px">月K</span></div>
</body></html>
